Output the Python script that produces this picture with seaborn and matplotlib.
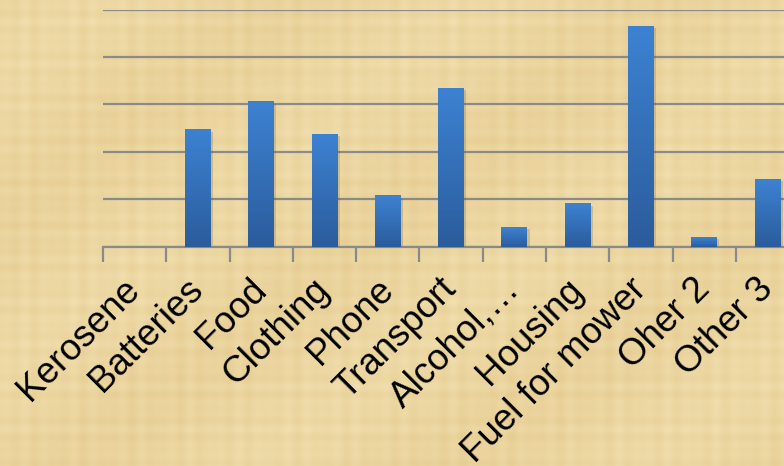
import numpy as np
import pandas as pd
import matplotlib
matplotlib.use("Agg")
import matplotlib.pyplot as plt
from matplotlib.colors import LinearSegmentedColormap
import seaborn as sns

# spending categories and their values (gridline step = 10)
categories = ["Kerosene", "Batteries", "Food", "Clothing", "Phone", "Transport",
              "Alcohol,\u2026", "Housing", "Fuel for mower", "Oher 2", "Other 3"]
values = [0, 24.7, 30.6, 23.8, 10.8, 33.5, 4.2, 9.1, 46.6, 2.1, 14.3]
yticks = [0, 10, 20, 30, 40, 50]

df = pd.DataFrame({"cat": categories, "val": values})

sns.set_style("white")
plt.rcParams["font.family"] = ["Liberation Sans", "DejaVu Sans"]

paper = "#ecd7a2"
fig = plt.figure(figsize=(7.84, 4.66), dpi=100, facecolor=paper)

# faint papyrus-like fibre pattern behind everything
bg = fig.add_axes([0, 0, 1, 1], zorder=-5)
yy, xx = np.mgrid[0:466, 0:784]
tex = (np.sin(xx / 3.1) * np.sin(xx / 17.0) * 0.35
       + np.sin(yy / 2.7) * np.sin(yy / 13.0) * 0.35
       + np.sin(xx / 61.0 + yy / 47.0) * 0.3)
paper_cmap = LinearSegmentedColormap.from_list("paper", ["#e6cc92", "#f1dfae"])
bg.imshow(tex, cmap=paper_cmap, aspect="auto", interpolation="bilinear")
bg.axis("off")

ax = fig.add_axes([0.1314, 0.471, 0.888, 0.5086])
ax.set_facecolor("none")

sns.barplot(data=df, x="cat", y="val", width=0.41, color="#3a7bc8",
            saturation=1, ax=ax, zorder=3)

ax.set_xlim(-0.5, 10.5)
ax.set_ylim(0, 50)
ax.set_yticks(yticks)
ax.set_yticklabels([])
ax.tick_params(axis="y", length=0)
ax.grid(axis="y", color="#8a8a8a", linewidth=1.6, zorder=0)
ax.set_axisbelow(True)
for s in ["top", "right", "left"]:
    ax.spines[s].set_visible(False)
ax.spines["bottom"].set_color("#8a8a8a")
ax.spines["bottom"].set_linewidth(1.6)

# boundary ticks between categories, like the spreadsheet look
ax.set_xticks(range(len(categories)))
ax.set_xticklabels(categories, rotation=45, ha="right", va="center",
                   rotation_mode="anchor", fontsize=26.5, color="black")
ax.set_xticks(np.arange(-0.5, 11, 1), minor=True)
ax.tick_params(axis="x", which="minor", bottom=True, length=11, width=1.6,
               color="#8a8a8a", direction="out")
ax.tick_params(axis="x", which="major", bottom=True, length=0, pad=27)
ax.set_xlabel("")
ax.set_ylabel("")

# vertical gradient fill for each bar, plus a soft shadow
cmap = LinearSegmentedColormap.from_list("bar", ["#2b5c9c", "#3d82d2"])
grad = np.linspace(0, 1, 256).reshape(-1, 1)
for p in list(ax.patches):
    x0, y0 = p.get_x(), p.get_y()
    w, h = p.get_width(), p.get_height()
    p.set_facecolor("none")
    p.set_edgecolor("none")
    p.set_linewidth(0)
    if h <= 0:
        continue
    ax.bar(x0 + w / 2 + 0.02, h, width=w + 0.03, bottom=-0.5,
           color="#5a4a2a", alpha=0.2, zorder=2, linewidth=0)
    im = ax.imshow(grad, extent=[x0, x0 + w, y0, y0 + h], origin="lower",
                   aspect="auto", cmap=cmap, zorder=3)
    im.set_clip_path(p)

ax.set_xlim(-0.5, 10.5)
ax.set_ylim(0, 50)

fig.savefig("out.png", dpi=100, facecolor=paper)
